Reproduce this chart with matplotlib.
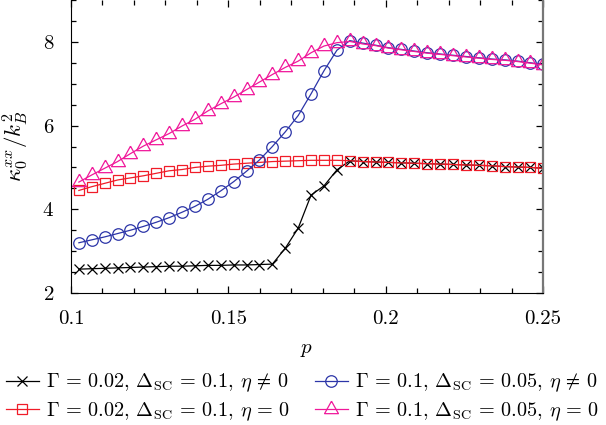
import matplotlib
matplotlib.use('Agg')
import matplotlib.pyplot as plt
from matplotlib.ticker import MultipleLocator, FixedLocator

plt.rcParams['font.family'] = 'serif'
plt.rcParams['font.serif'] = ['cmr10']
plt.rcParams['mathtext.fontset'] = 'cm'
plt.rcParams['axes.formatter.use_mathtext'] = True
plt.rcParams['font.size'] = 15

# doping values p
p = [0.1025, 0.1066, 0.1107, 0.1148, 0.1189, 0.1230, 0.1271, 0.1312, 0.1353, 0.1394,
     0.1435, 0.1476, 0.1517, 0.1558, 0.1599, 0.1640, 0.1681, 0.1722, 0.1763, 0.1804,
     0.1845, 0.1886, 0.1927, 0.1968, 0.2009, 0.2050, 0.2091, 0.2132, 0.2173, 0.2214,
     0.2255, 0.2296, 0.2337, 0.2378, 0.2419, 0.2460, 0.2500]

# Gamma=0.02, Delta_SC=0.1, eta != 0
kappa_a = [2.57, 2.58, 2.59, 2.60, 2.61, 2.62, 2.63, 2.64, 2.64, 2.65,
           2.66, 2.66, 2.67, 2.67, 2.68, 2.69, 3.07, 3.55, 4.34, 4.56,
           4.94, 5.16, 5.14, 5.13, 5.12, 5.11, 5.10, 5.09, 5.08, 5.07,
           5.06, 5.05, 5.04, 5.02, 5.01, 5.00, 4.98]
# Gamma=0.02, Delta_SC=0.1, eta = 0
kappa_b = [4.45, 4.54, 4.62, 4.70, 4.75, 4.80, 4.86, 4.92, 4.95, 5.00,
           5.03, 5.05, 5.08, 5.10, 5.12, 5.14, 5.15, 5.16, 5.17, 5.17,
           5.17, 5.16, 5.14, 5.13, 5.12, 5.11, 5.10, 5.09, 5.08, 5.07,
           5.06, 5.05, 5.04, 5.02, 5.01, 5.00, 4.98]
# Gamma=0.1, Delta_SC=0.05, eta != 0
kappa_c = [3.20, 3.27, 3.34, 3.42, 3.50, 3.59, 3.69, 3.80, 3.93, 4.07,
           4.24, 4.44, 4.66, 4.91, 5.18, 5.50, 5.85, 6.24, 6.76, 7.31,
           7.80, 8.03, 7.97, 7.92, 7.86, 7.82, 7.78, 7.74, 7.71, 7.68,
           7.65, 7.62, 7.59, 7.57, 7.54, 7.50, 7.46]
# Gamma=0.1, Delta_SC=0.05, eta = 0
kappa_d = [4.65, 4.82, 4.98, 5.14, 5.33, 5.51, 5.66, 5.81, 5.99, 6.15,
           6.35, 6.52, 6.68, 6.86, 7.04, 7.22, 7.39, 7.54, 7.74, 7.90,
           7.98, 8.01, 7.95, 7.91, 7.85, 7.81, 7.77, 7.73, 7.70, 7.67,
           7.64, 7.61, 7.58, 7.56, 7.53, 7.49, 7.45]

labels = [r'$\Gamma\,=\,0.02$, $\Delta_{\rm SC}\,=\,0.1$, $\eta\,\neq\,0$',
          r'$\Gamma\,=\,0.02$, $\Delta_{\rm SC}\,=\,0.1$, $\eta\,=\,0$',
          r'$\Gamma\,=\,0.1$, $\Delta_{\rm SC}\,=\,0.05$, $\eta\,\neq\,0$',
          r'$\Gamma\,=\,0.1$, $\Delta_{\rm SC}\,=\,0.05$, $\eta\,=\,0$']

# triangle centred on its centroid, like gnuplot
tri = [(0, 0.6), (-0.5, -0.3), (0.5, -0.3), (0, 0.6)]

fig = plt.figure(figsize=(6.06, 4.25), dpi=100)
ax = fig.add_axes([71/606, 1 - 293/425, (543-71)/606, 293/425])

l1, = ax.plot(p, kappa_a, color='black', lw=0.9, marker='x', ms=7.5, mew=0.9, label=labels[0])
l2, = ax.plot(p, kappa_b, color='#f01c28', lw=0.9, marker='s', ms=7.5, mew=0.9, mfc='none', label=labels[1])
l3, = ax.plot(p, kappa_c, color='#2c35a8', lw=0.9, marker='o', ms=8.3, mew=0.9, mfc='none', label=labels[2])
l4, = ax.plot(p, kappa_d, color='#f0189a', lw=0.9, marker=tri, ms=12, mew=0.9, mfc='none', label=labels[3])

ax.set_xlim(0.1, 0.25)
ax.set_ylim(2, 9)
ax.xaxis.set_major_locator(FixedLocator([0.1, 0.15, 0.2, 0.25]))
ax.set_xticklabels(['0.1', '0.15', '0.2', '0.25'])
ax.xaxis.set_minor_locator(MultipleLocator(0.01))
ax.yaxis.set_major_locator(MultipleLocator(2))
ax.yaxis.set_minor_locator(MultipleLocator(0.5))
ax.tick_params(which='both', direction='in', top=True, right=True, width=0.9)
ax.tick_params(which='major', length=5, pad=12)
ax.tick_params(which='minor', length=3.5)
ax.spines['top'].set_visible(False)
ax.spines['right'].set_color('#777777')
ax.spines['right'].set_linewidth(1.6)

ax.set_xlabel(r'$p$', labelpad=10)
ax.set_ylabel(r'$\kappa_0^{xx}/k_B^2$', fontsize=16.5, labelpad=8)

fig.legend(handles=[l1, l2, l3, l4], ncol=2, loc='upper left',
           bbox_to_anchor=(0.01, 0.125), frameon=False, fontsize=14.6,
           handlelength=1.6, handletextpad=0.35, columnspacing=1.25,
           labelspacing=0.3, borderpad=0, borderaxespad=0)

fig.savefig('out.png', dpi=100)
